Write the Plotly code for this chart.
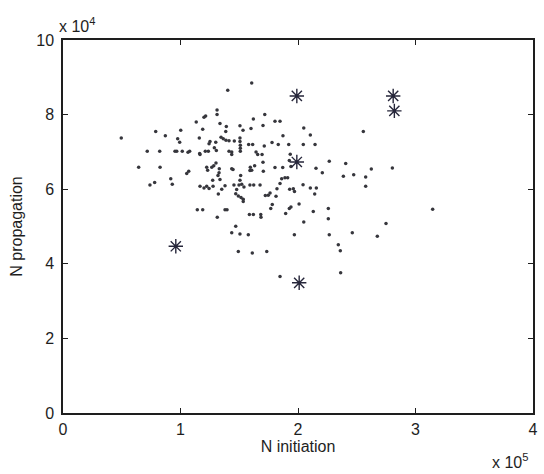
import plotly.graph_objects as go

# N initiation (x 10^5) and N propagation (x 10^4) of the simulated points
x_dots = [1.606, 1.402, 1.311, 1.311, 1.717, 1.214, 1.200, 1.620, 1.134, 1.336,
          1.804, 1.847, 1.390, 1.702, 1.600, 1.506, 1.532, 0.789, 1.002, 1.189,
          1.385, 0.871, 0.496, 0.976, 0.993, 1.160, 1.345, 1.364, 1.387, 1.413,
          1.458, 1.506, 1.506, 1.872, 1.251, 1.243, 1.300, 1.509, 1.509, 1.509,
          1.580, 1.614, 1.713, 1.779, 1.832, 1.921, 0.717, 0.823, 0.953, 0.968,
          1.015, 1.064, 1.078, 1.163, 1.166, 1.211, 1.237, 1.288, 1.305, 1.413,
          1.436, 1.436, 1.643, 1.657, 1.694, 1.934, 1.926, 0.644, 0.826, 1.070,
          1.053, 1.223, 1.231, 1.266, 1.283, 1.302, 1.330, 1.328, 1.436, 1.447,
          1.594, 1.631, 1.591, 1.606, 1.702, 1.705, 1.804, 1.870, 1.940, 1.512,
          1.506, 1.319, 1.336, 1.274, 0.917, 0.930, 0.780, 0.740, 1.889, 1.912,
          1.861, 1.847, 1.166, 1.200, 1.223, 1.243, 1.277, 1.351, 1.379, 1.455,
          1.478, 1.498, 1.521, 1.540, 1.591, 1.623, 1.677, 1.821, 1.929, 1.960,
          1.970, 1.322, 1.470, 1.492, 1.515, 1.534, 1.534, 1.722, 1.747, 1.762,
          1.813, 1.781, 1.768, 1.926, 1.940, 1.895, 1.143, 1.189, 1.379, 1.396,
          1.313, 1.586, 1.620, 1.683, 1.685, 2.556, 2.049, 2.105, 2.045, 2.145,
          2.266, 2.406, 2.153, 2.207, 2.624, 2.803, 2.386, 2.474, 2.576, 2.576,
          2.105, 2.156, 2.142, 2.043, 2.009, 2.258, 2.258, 2.130, 3.146, 2.749,
          2.675, 2.049, 1.470, 1.436, 1.506, 1.577, 1.969, 2.266, 2.462, 2.343,
          2.360, 1.492, 1.611, 1.734, 2.363, 1.847]
y_dots = [8.85, 8.65, 8.12, 8.00, 8.00, 7.96, 7.93, 7.88, 7.80, 7.76,
          7.82, 7.82, 7.68, 7.71, 7.63, 7.70, 7.58, 7.55, 7.58, 7.61,
          7.55, 7.43, 7.37, 7.35, 7.26, 7.37, 7.39, 7.35, 7.31, 7.30,
          7.29, 7.37, 7.28, 7.43, 7.28, 7.22, 7.26, 7.18, 7.10, 7.02,
          7.20, 7.20, 7.16, 7.25, 7.20, 7.20, 7.02, 7.02, 7.02, 7.02,
          7.02, 6.99, 7.02, 6.96, 6.93, 7.02, 7.02, 7.11, 7.04, 7.02,
          7.00, 6.93, 7.00, 6.93, 6.93, 6.94, 6.77, 6.59, 6.59, 6.48,
          6.42, 6.59, 6.51, 6.59, 6.63, 6.70, 6.55, 6.44, 6.55, 6.53,
          6.59, 6.63, 6.50, 6.51, 6.72, 6.48, 6.58, 6.58, 6.61, 6.37,
          6.24, 6.37, 6.26, 6.24, 6.28, 6.13, 6.18, 6.11, 6.31, 6.31,
          6.28, 6.15, 6.08, 6.03, 6.08, 6.02, 6.08, 6.00, 6.09, 6.11,
          5.99, 6.11, 6.13, 6.06, 6.11, 6.11, 6.11, 6.01, 6.00, 6.01,
          5.94, 5.87, 5.88, 5.82, 5.78, 5.73, 5.67, 5.83, 5.84, 5.90,
          5.81, 5.59, 5.48, 5.48, 5.52, 5.35, 5.45, 5.45, 5.45, 5.45,
          5.25, 5.32, 5.32, 5.32, 5.25, 7.55, 7.64, 7.45, 7.20, 7.20,
          6.75, 6.69, 6.56, 6.44, 6.54, 6.57, 6.35, 6.39, 6.33, 6.08,
          6.03, 6.03, 5.87, 6.12, 5.60, 5.48, 5.21, 5.40, 5.46, 5.08,
          4.74, 5.12, 5.01, 4.83, 4.80, 4.78, 4.78, 4.78, 4.83, 4.51,
          4.35, 4.33, 4.29, 4.33, 3.76, 3.66]

# highlighted cases (asterisks)
x_stars = [1.99, 1.99, 2.81, 2.82, 0.96, 2.01]
y_stars = [8.50, 6.73, 8.50, 8.10, 4.47, 3.49]

x_ticks = [0, 1, 2, 3, 4]
y_ticks = [0, 2, 4, 6, 8, 10]
x_title = "N initiation"
y_title = "N propagation"
x_mult = "x 10<sup>5</sup>"
y_mult = "x 10<sup>4</sup>"

FONT = "Liberation Sans, Arial, sans-serif"
INK = "#1e1e1e"

fig = go.Figure()
fig.add_trace(go.Scatter(
    x=x_dots, y=y_dots, mode="markers",
    marker=dict(symbol="circle", size=3.5, color="#36363c", line=dict(width=0)),
    showlegend=False, hoverinfo="x+y"))
fig.add_trace(go.Scatter(
    x=x_stars, y=y_stars, mode="markers",
    marker=dict(symbol="asterisk-open", size=12, color="#26263a",
                line=dict(width=1.4, color="#26263a")),
    showlegend=False, hoverinfo="x+y"))

axis_common = dict(
    showgrid=False, zeroline=False, showline=True, linecolor=INK, linewidth=1.5,
    mirror="ticks", ticks="inside", ticklen=5, tickwidth=1, tickcolor=INK,
    tickfont=dict(family=FONT, size=16, color=INK),
)
fig.update_xaxes(range=[0, 4], tickvals=x_ticks, ticktext=[str(v) for v in x_ticks],
                 ticklabelstandoff=1,
                 title=dict(text=x_title, font=dict(family=FONT, size=16, color=INK), standoff=4),
                 **axis_common)
fig.update_yaxes(range=[0, 10], tickvals=y_ticks, ticktext=[str(v) for v in y_ticks],
                 ticklabelstandoff=4,
                 title=dict(text=y_title, font=dict(family=FONT, size=16, color=INK), standoff=10),
                 **axis_common)

fig.add_annotation(xref="paper", yref="paper", x=0, y=1, xanchor="left", yanchor="bottom",
                   text=y_mult, showarrow=False, yshift=3, xshift=-6,
                   font=dict(family=FONT, size=16, color=INK))
fig.add_annotation(xref="paper", yref="paper", x=1, y=0, xanchor="right", yanchor="top",
                   text=x_mult, showarrow=False, yshift=-36, xshift=-3,
                   font=dict(family=FONT, size=16, color=INK))

fig.update_layout(
    width=544, height=474,
    margin=dict(l=63, r=6, t=40, b=61),
    paper_bgcolor="white", plot_bgcolor="white",
    font=dict(family=FONT, color=INK),
)
fig.write_html("out.html", config={"displayModeBar": False},
               post_script="document.body.style.margin='0';document.body.style.overflow='hidden';")
